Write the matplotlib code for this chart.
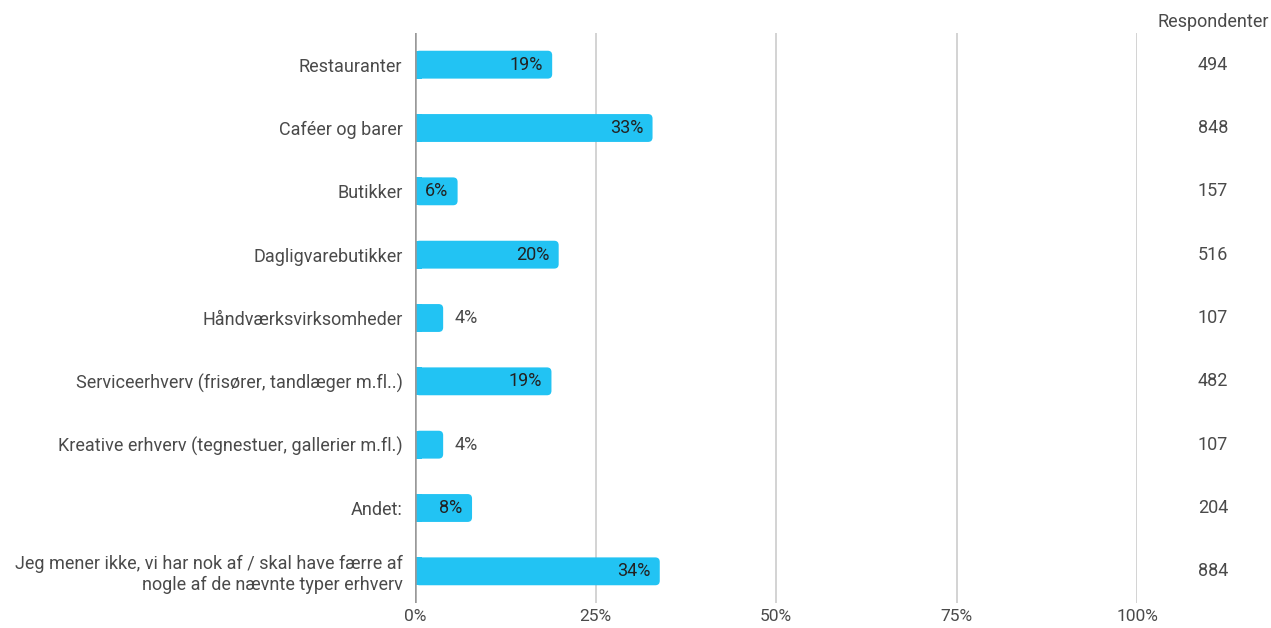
import matplotlib.pyplot as plt
from matplotlib.patches import FancyBboxPatch, Rectangle
from matplotlib.transforms import blended_transform_factory

plt.rcParams['font.family'] = ['Roboto', 'DejaVu Sans']

categories = [
    "Restauranter",
    "Caféer og barer",
    "Butikker",
    "Dagligvarebutikker",
    "Håndværksvirksomheder",
    "Serviceerhverv (frisører, tandlæger m.fl..)",
    "Kreative erhverv (tegnestuer, gallerier m.fl.)",
    "Andet:",
    "Jeg mener ikke, vi har nok af / skal have færre af\nnogle af de nævnte typer erhverv",
]
percent = [19.0, 32.9, 5.9, 19.9, 3.9, 18.9, 3.9, 7.9, 33.9]
percent_labels = ["19%", "33%", "6%", "20%", "4%", "19%", "4%", "8%", "34%"]
respondents = [494, 848, 157, 516, 107, 482, 107, 204, 884]
xticks = [0, 25, 50, 75, 100]
xtick_labels = ["0%", "25%", "50%", "75%", "100%"]

BAR = "#22c3f3"
TEXT = "#4a4a4a"
FS = 13

fig = plt.figure(figsize=(12.71, 6.28), dpi=100)
ax = fig.add_axes([415 / 1271, 1 - 603 / 628, (1137 - 415) / 1271, (603 - 33) / 628])
ax.set_xlim(0, 100)
ax.set_ylim(len(categories) - 0.5, -0.5)

# px per unit, used to keep the corner rounding circular
px_x = (1137 - 415) / 100
px_y = (603 - 33) / len(categories)
r = 4.5 / px_x
h = 0.44

for i, (v, lab) in enumerate(zip(percent, percent_labels)):
    ax.add_patch(FancyBboxPatch((0, i - h / 2), v, h,
                                boxstyle=f"round,pad=0,rounding_size={r}",
                                mutation_aspect=px_x / px_y,
                                fc=BAR, ec="none", zorder=3))
    ax.add_patch(Rectangle((0, i - h / 2), min(v, 1.0), h, fc=BAR, ec="none", zorder=3))
    if v >= 5:
        ax.text(v - 1.3, i, lab, ha="right", va="center", fontsize=FS, color="#222222", zorder=4)
    else:
        ax.text(v + 1.6, i, lab, ha="left", va="center", fontsize=FS, color=TEXT, zorder=4)

for t in xticks[1:]:
    ax.axvline(t, color="#cccccc", lw=1.2, zorder=1)
ax.axvline(0, color="#999999", lw=1.8, zorder=5)

ax.set_xticks(xticks)
ax.set_xticklabels(xtick_labels, fontsize=12.5, color=TEXT)
ax.set_yticks(range(len(categories)))
ax.set_yticklabels(categories, fontsize=FS, color=TEXT, linespacing=1.15)
ax.tick_params(axis="both", length=0)
ax.tick_params(axis="y", pad=9)
ax.tick_params(axis="x", pad=4)
for s in ax.spines.values():
    s.set_visible(False)

# respondent column on the right
fig.text(1213 / 1271, 1 - 22 / 628, "Respondenter", ha="center", va="center", fontsize=FS, color=TEXT)
trans = blended_transform_factory(fig.transFigure, ax.transData)
for i, n in enumerate(respondents):
    ax.text(1213 / 1271, i, str(n), transform=trans,
            ha="center", va="center", fontsize=FS, color=TEXT)

fig.savefig("out.png", dpi=100)
